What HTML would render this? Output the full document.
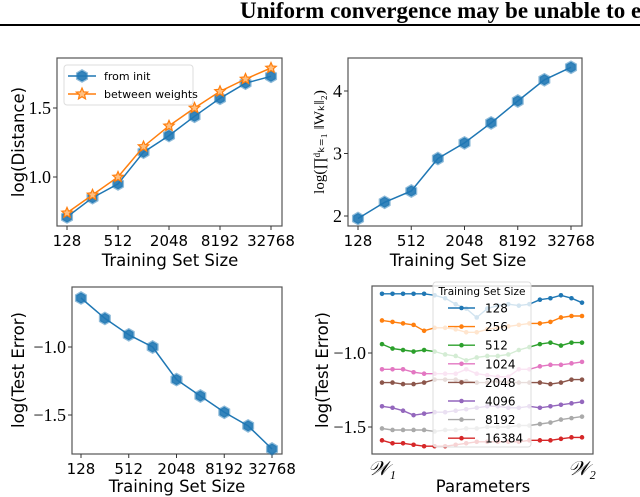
<!DOCTYPE html>
<html><head><meta charset="utf-8"><style>
html,body{margin:0;padding:0;background:#fff;overflow:hidden;}
svg{display:block;}
</style></head><body>
<svg id="fig" width="640" height="497" viewBox="0 0 640 497" xmlns="http://www.w3.org/2000/svg">
<text x="240" y="18" font-family="Liberation Serif, serif" font-weight="bold" font-size="23">Uniform convergence may be unable to e</text>
<rect x="0" y="24" width="640" height="2" fill="#000"/>
</svg>
<script>
const sizeTicks = ['128','512','2048','8192','32768'];
const sizeTickExp = [7,9,11,13,15];
const sizeExp = [7,8,9,10,11,12,13,14,15];
const distFromInit = [0.71,0.85,0.95,1.18,1.30,1.44,1.57,1.68,1.73];
const distBetween = [0.74,0.87,1.00,1.22,1.37,1.50,1.62,1.71,1.79];
const specNorm = [1.96,2.22,2.40,2.92,3.17,3.49,3.84,4.18,4.38];
const testErr = [-0.64,-0.79,-0.91,-1.00,-1.24,-1.36,-1.48,-1.58,-1.75];
const interpLabels = ['128','256','512','1024','2048','4096','8192','16384'];
const interp128 = [-0.60,-0.60,-0.60,-0.60,-0.60,-0.61,-0.63,-0.67,-0.70,-0.76,-0.70,-0.68,-0.67,-0.68,-0.67,-0.64,-0.63,-0.61,-0.63,-0.66];
const interp256 = [-0.78,-0.79,-0.80,-0.81,-0.85,-0.83,-0.83,-0.84,-0.86,-0.86,-0.84,-0.83,-0.82,-0.81,-0.80,-0.80,-0.79,-0.76,-0.75,-0.75];
const interp512 = [-0.94,-0.97,-0.98,-0.99,-0.98,-0.99,-1.01,-1.02,-1.05,-1.03,-1.02,-1.02,-1.01,-0.98,-0.96,-0.94,-0.93,-0.95,-0.93,-0.93];
const interp1024 = [-1.11,-1.11,-1.11,-1.13,-1.14,-1.14,-1.14,-1.14,-1.11,-1.14,-1.15,-1.16,-1.16,-1.11,-1.11,-1.09,-1.08,-1.08,-1.07,-1.06];
const interp2048 = [-1.20,-1.20,-1.21,-1.21,-1.20,-1.18,-1.18,-1.18,-1.19,-1.20,-1.20,-1.19,-1.20,-1.20,-1.20,-1.20,-1.21,-1.20,-1.18,-1.18];
const interp4096 = [-1.36,-1.37,-1.39,-1.42,-1.41,-1.40,-1.40,-1.39,-1.38,-1.37,-1.36,-1.36,-1.37,-1.37,-1.36,-1.37,-1.36,-1.35,-1.34,-1.33];
const interp8192 = [-1.51,-1.52,-1.52,-1.52,-1.52,-1.53,-1.52,-1.52,-1.51,-1.51,-1.50,-1.50,-1.50,-1.49,-1.49,-1.48,-1.47,-1.45,-1.44,-1.43];
const interp16384 = [-1.59,-1.61,-1.61,-1.62,-1.63,-1.63,-1.63,-1.62,-1.61,-1.60,-1.60,-1.60,-1.60,-1.60,-1.59,-1.59,-1.59,-1.58,-1.57,-1.57];
const interpColors = ['#1f77b4','#ff7f0e','#2ca02c','#e377c2','#8c564b','#9467bd','#aaaaaa','#d62728'];

const NS='http://www.w3.org/2000/svg';
const svg=document.getElementById('fig');
function mk(tag,attrs,parent){const e=document.createElementNS(NS,tag);for(const k in attrs)e.setAttribute(k,attrs[k]);(parent||svg).appendChild(e);return e;}
function lin(d0,d1,r0,r1){return v=>r0+(v-d0)*(r1-r0)/(d1-d0);}

function axesBox(g,x0,y0,x1,y1,name){
  const r=mk('rect',{x:x0,y:y0,width:x1-x0,height:y1-y0,fill:'none',stroke:'#555','stroke-width':1.2},g);
  
  
}
function xTicks(g,sx,y1,labels,vals,name){
  labels.forEach((l,i)=>{
    const x=sx(vals[i]);
    mk('line',{x1:x,x2:x,y1:y1,y2:y1+4,stroke:'#333'},g);
    const t=mk('text',{x:x,y:y1+20,'text-anchor':'middle','font-family':'DejaVu Sans, sans-serif','font-size':15},g);
    t.textContent=l;
    
    
  });
}
function yTicks(g,sy,x0,vals,dec,name){
  vals.forEach(v=>{
    const y=sy(v);
    mk('line',{x1:x0-4,x2:x0,y1:y,y2:y,stroke:'#333'},g);
    const t=mk('text',{x:x0-6,y:y+6,'text-anchor':'end','font-family':'Liberation Serif, serif','font-size':18},g);
    t.textContent=(v<0?'\u2212':'')+Math.abs(v).toFixed(dec);
    
    
  });
}
function label(g,x,y,txt,rot,name){
  const t=mk('text',{x:x,y:y,'text-anchor':'middle','font-family':'DejaVu Sans, sans-serif','font-size':16.5},g);
  if(rot)t.setAttribute('transform','rotate(-90 '+x+' '+y+')');
  t.textContent=txt;
  
  
  return t;
}
function hexMarker(g,x,y,r,color){
  let pts=[];for(let k=0;k<6;k++){const a=Math.PI/6+k*Math.PI/3;pts.push((x+r*Math.cos(a)).toFixed(1)+','+(y+r*Math.sin(a)).toFixed(1));}
  return mk('polygon',{points:pts.join(' '),fill:color,stroke:color,'stroke-opacity':0.5,'stroke-width':2.5,'fill-opacity':0.9},g);
}
function starMarker(g,x,y,r,color){
  let pts=[];for(let k=0;k<10;k++){const a=-Math.PI/2+k*Math.PI/5;const rr=k%2?r*0.45:r;pts.push((x+rr*Math.cos(a)).toFixed(1)+','+(y+rr*Math.sin(a)).toFixed(1));}
  return mk('polygon',{points:pts.join(' '),fill:'#ffbf80',stroke:color,'stroke-width':1.2},g);
}
function series(g,xs,ys,sx,sy,color,marker,name){
  const p=xs.map((v,i)=>sx(v).toFixed(1)+','+sy(ys[i]).toFixed(1)).join(' ');
  const l=mk('polyline',{points:p,fill:'none',stroke:color,'stroke-width':1.5},g);
  
  
  xs.forEach((v,i)=>{
    const m=marker(g,sx(v),sy(ys[i]),5.5,color);
    
    
  });
}

// Panel 1
(function(){
  const g=mk('g',{});
  
  
  const sx=lin(7,15,67,271), sy=lin(1.0,1.5,177,108);
  axesBox(g,57,58,282,226,'distance-chart');
  xTicks(g,sx,226,sizeTicks,sizeTickExp,'distance-chart');
  yTicks(g,sy,57,[1.0,1.5],1,'distance-chart');
  label(g,170,266,'Training Set Size',false,'distance-x-axis-title');
  label(g,24,142,'log(Distance)',true,'distance-y-axis-title');
  series(g,sizeExp,distFromInit,sx,sy,'#1f77b4',hexMarker,'from-init');
  series(g,sizeExp,distBetween,sx,sy,'#ff7f0e',starMarker,'between-weights');
  const lg=mk('g',{},g);
  
  
  mk('rect',{x:64,y:65,width:129,height:40,rx:3,fill:'#fff',stroke:'#ddd'},lg);
  mk('line',{x1:68,x2:96,y1:76,y2:76,stroke:'#1f77b4','stroke-width':1.5},lg);
  hexMarker(lg,82,76,5.5,'#1f77b4');
  mk('line',{x1:68,x2:96,y1:94,y2:94,stroke:'#ff7f0e','stroke-width':1.5},lg);
  starMarker(lg,82,94,6,'#ff7f0e');
  const t1=mk('text',{x:104,y:80,'font-family':'DejaVu Sans, sans-serif','font-size':11},lg);t1.textContent='from init';
  
  
  const t2=mk('text',{x:104,y:98,'font-family':'DejaVu Sans, sans-serif','font-size':11},lg);t2.textContent='between weights';
  
  
})();

// Panel 2
(function(){
  const g=mk('g',{});
  
  
  const sx=lin(7,15,358,571), sy=lin(2,4,216,91);
  axesBox(g,348,58,582,226,'spectral-norm-chart');
  xTicks(g,sx,226,sizeTicks,sizeTickExp,'spectral-norm-chart');
  yTicks(g,sy,348,[2,3,4],0,'spectral-norm-chart');
  label(g,458,266,'Training Set Size',false,'spectral-x-axis-title');
  const t=mk('text',{x:324,y:142,'text-anchor':'middle','font-family':'Liberation Serif, serif','font-size':15,transform:'rotate(-90 324 142)'},g);
  t.textContent='log(\u220F\u1D48\u2096\u208C\u2081 \u2016W\u2096\u2016\u2082)';
  
  
  series(g,sizeExp,specNorm,sx,sy,'#1f77b4',hexMarker,'spectral-norm');
})();

// Panel 3
(function(){
  const g=mk('g',{});
  
  
  const sx=lin(7,15,81,272), sy=lin(-1.0,-1.5,347,415);
  axesBox(g,72,287,282,454,'test-error-chart');
  xTicks(g,sx,454,sizeTicks,sizeTickExp,'test-error-chart');
  yTicks(g,sy,72,[-1.0,-1.5],1,'test-error-chart');
  label(g,177,492,'Training Set Size',false,'test-error-x-axis-title');
  label(g,24,370,'log(Test Error)',true,'test-error-y-axis-title');
  series(g,sizeExp,testErr,sx,sy,'#1f77b4',hexMarker,'test-error');
})();

// Panel 4
(function(){
  const g=mk('g',{});
  
  
  const sx=lin(0,19,382,582), sy=lin(-1.0,-1.5,353,427);
  axesBox(g,372,286,593,454,'interpolation-chart');
  yTicks(g,sy,372,[-1.0,-1.5],1,'interpolation-chart');
  const w1=mk('text',{x:382,y:475,'text-anchor':'middle','font-family':'Liberation Serif, serif','font-style':'italic','font-size':20},g);w1.textContent='\uD835\uDCB2\u2081';
  
  
  const w2=mk('text',{x:582,y:475,'text-anchor':'middle','font-family':'Liberation Serif, serif','font-style':'italic','font-size':20},g);w2.textContent='\uD835\uDCB2\u2082';
  
  
  label(g,483,492,'Parameters',false,'interpolation-x-axis-title');
  label(g,328,370,'log(Test Error)',true,'interpolation-y-axis-title');
  const all=[interp128,interp256,interp512,interp1024,interp2048,interp4096,interp8192,interp16384];
  const idx=interp128.map((_,i)=>i);
  function dot(gg,x,y,c){return mk('circle',{cx:x,cy:y,r:2.3,fill:c},gg);}
  all.forEach((s,k)=>{
    const c=interpColors[k];
    const p=idx.map(i=>sx(i).toFixed(1)+','+sy(s[i]).toFixed(1)).join(' ');
    const l=mk('polyline',{points:p,fill:'none',stroke:c,'stroke-width':1.4},g);
    
    
    idx.forEach(i=>{
      const m=dot(g,sx(i),sy(s[i]),c);
      
      
    });
  });
  const lg=mk('g',{},g);
  
  
  mk('rect',{x:433,y:282,width:98,height:165,rx:3,fill:'#fff','fill-opacity':0.8,stroke:'#ddd'},lg);
  const tt=mk('text',{x:482,y:295,'text-anchor':'middle','font-family':'DejaVu Sans, sans-serif','font-size':10.5},lg);
  tt.textContent='Training Set Size';
  
  
  interpLabels.forEach((lab,k)=>{
    const y=308+k*18.6;
    mk('line',{x1:448,x2:475,y1:y,y2:y,stroke:interpColors[k],'stroke-width':1.4},lg);
    mk('circle',{cx:461.5,cy:y,r:2.3,fill:interpColors[k]},lg);
    const t=mk('text',{x:485,y:y+4.5,'font-family':'DejaVu Sans, sans-serif','font-size':12},lg);
    t.textContent=lab;
    
    
  });
})();
</script>
</body></html>
